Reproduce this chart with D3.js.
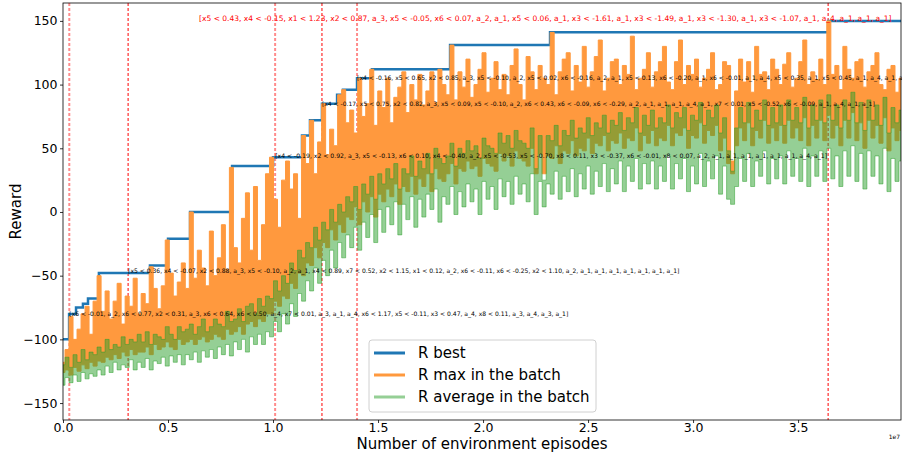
<!DOCTYPE html>
<html>
<head>
<meta charset="utf-8">
<script src="https://cdn.jsdelivr.net/npm/d3@7"></script>
<style>
  body { margin: 0; background: #fff; }
  svg { font-family: "DejaVu Sans", sans-serif; }
</style>
</head>
<body>
<div id="chart"></div>
<script>
// R best: step changes (episodes, reward)
const bestEpisodes = [0, 0.029e7, 0.062e7, 0.095e7, 0.119e7, 0.171e7, 0.414e7, 0.500e7, 0.605e7, 0.805e7,
  1.000e7, 1.138e7, 1.176e7, 1.233e7, 1.305e7, 1.333e7, 1.400e7, 1.471e7, 1.843e7, 2.319e7, 3.643e7, 3.99e7];
const bestValues = [-100, -80, -75, -72, -68, -48, -42, -21, 0, 36,
  43, 60, 72, 85, 92, 96, 105, 112, 131, 141, 150, 150];

// R max in the batch: top and bottom of the trace in each logged bin
const maxHigh = [
  -118, -108, -82, -100, -92, -80, -74, -96, -70, -50,
  -78, -62, -84, -70, -56, -88, -66, -74, -52, -80,
  -64, -72, -43, -60, -76, -58, -22, -48, -66, -55,
  -40, -60, 0, -52, -30, -44, -58, -15, -50, -36,
  -10, -45, 35, -28, -40, -5, 15, -30, 20, -38,
  -10, 30, 43, 10, -12, 25, 40, 18, 30, -5,
  60, 38, 72, 30, 55, 85, 45, 65, 52, 92,
  96, 70, 80, 62, 105, 75, 85, 112, 68, 95,
  82, 105, 70, 90, 98, 110, 78, 100, 88, 108,
  84, 95, 110, 86, 112, 100, 92, 131, 88, 110,
  98, 120, 90, 100, 112, 125, 94, 105, 118, 96,
  108, 92, 115, 128, 100, 88, 122, 110, 96, 115,
  105, 100, 141, 92, 110, 120, 125, 95, 115, 102,
  130, 98, 110, 122, 135, 95, 105, 118, 120, 100,
  115, 108, 138, 96, 105, 112, 125, 98, 110, 118,
  130, 102, 96, 118, 135, 100, 115, 108, 120, 98,
  105, 112, 125, 96, 100, 118, 115, 40, 95, 120,
  102, 118, 94, 130, 108, 110, 96, 120, 112, 100,
  116, 125, 98, 105, 118, 135, 100, 110, 104, 120,
  100, 150, 108, 115, 96, 130, 112, 105, 118, 120,
  98, 110, 115, 125, 100, 96, 112, 115, 94, 105
];
const maxLow = [
  -126, -124, -128, -122, -125, -120, -123, -118, -121, -117,
  -118, -114, -116, -112, -115, -110, -113, -108, -112, -110,
  -110, -106, -112, -104, -108, -106, -102, -106, -108, -100,
  -104, -102, -100, -104, -100, -98, -102, -100, -96, -98,
  -100, -92, -96, -94, -90, -96, -88, -86, -90, -84,
  -86, -80, -80, -70, -74, -66, -68, -56, -60, -48,
  -50, -40, -42, -28, -36, -24, -28, -14, -22, -10,
  -16, -4, -6, 4, -10, 8, 0, 12, -4, 14,
  8, 18, 12, 22, 6, 20, 16, 28, 14, 26,
  20, 30, 16, 34, 26, 24, 30, 38, 22, 34,
  32, 40, 34, 36, 28, 42, 38, 36, 32, 46,
  40, 44, 36, 48, 42, 40, 36, 50, 30, 46,
  30, 44, 42, 52, 38, 48, 46, 56, 44, 50,
  48, 58, 46, 54, 52, 60, 48, 56, 54, 62,
  50, 58, 56, 66, 48, 60, 54, 64, 52, 58,
  56, 68, 52, 62, 60, 66, 50, 60, 58, 70,
  54, 64, 60, 68, 48, 58, 38, 30, 52, 66,
  56, 70, 52, 64, 58, 72, 54, 66, 56, 68,
  54, 72, 58, 66, 56, 74, 52, 68, 58, 72,
  56, 76, 58, 68, 52, 72, 58, 78, 56, 70,
  50, 72, 58, 68, 54, 74, 48, 66, 56, 64
];

// R average in the batch: top and bottom of the trace in each logged bin
const avgHigh = [
  -120, -114, -122, -112, -118, -108, -116, -110, -112, -106,
  -110, -100, -108, -104, -106, -98, -104, -100, -102, -96,
  -102, -94, -104, -96, -98, -100, -90, -96, -100, -90,
  -94, -92, -88, -96, -90, -84, -94, -90, -84, -88,
  -90, -78, -86, -84, -76, -86, -74, -72, -80, -68,
  -74, -66, -68, -54, -62, -50, -56, -40, -46, -30,
  -36, -24, -28, -12, -22, -8, -14, 2, -8, 6,
  0, 12, 8, 20, 2, 22, 14, 28, 10, 30,
  22, 34, 26, 38, 18, 34, 30, 44, 28, 40,
  34, 46, 30, 50, 42, 38, 44, 54, 36, 50,
  46, 56, 48, 52, 42, 58, 52, 50, 46, 62,
  54, 60, 50, 64, 56, 54, 50, 66, 34, 60,
  25, 60, 56, 68, 52, 64, 60, 72, 58, 66,
  62, 74, 60, 70, 66, 76, 62, 72, 68, 78,
  64, 74, 70, 82, 62, 76, 68, 80, 66, 74,
  70, 84, 66, 78, 74, 82, 64, 76, 72, 86,
  68, 80, 74, 84, 62, 74, 48, 32, 66, 82,
  70, 86, 66, 80, 72, 88, 68, 82, 70, 84,
  68, 88, 72, 82, 70, 90, 66, 84, 72, 88,
  70, 92, 72, 84, 66, 88, 72, 94, 70, 86,
  64, 88, 72, 84, 68, 90, 62, 82, 70, 80
];
const avgLow = [
  -136, -130, -134, -128, -133, -126, -131, -127, -129, -124,
  -128, -121, -126, -118, -124, -120, -122, -116, -124, -118,
  -122, -115, -124, -117, -119, -114, -121, -113, -118, -112,
  -120, -112, -116, -110, -118, -109, -114, -108, -115, -106,
  -112, -104, -113, -102, -108, -100, -110, -98, -104, -96,
  -104, -94, -98, -86, -94, -80, -88, -72, -82, -64,
  -70, -54, -62, -44, -56, -38, -50, -30, -44, -24,
  -36, -18, -28, -12, -30, -8, -20, -2, -24, 2,
  -16, 4, -10, 8, -18, 6, -6, 12, -12, 10,
  -4, 14, 2, 18, -8, 12, 6, 20, -2, 16,
  4, 22, 8, 18, -2, 24, 10, 20, 2, 26,
  12, 24, 6, 28, 14, 22, 8, 30, -2, 24,
  4, 22, 14, 32, 10, 28, 16, 34, 12, 30,
  18, 36, 14, 32, 20, 38, 16, 34, 22, 40,
  16, 36, 24, 42, 18, 38, 22, 40, 18, 36,
  24, 44, 18, 38, 26, 42, 16, 36, 22, 46,
  20, 40, 26, 44, 14, 36, 10, 6, 20, 42,
  24, 46, 20, 40, 28, 48, 22, 42, 26, 44,
  22, 48, 28, 42, 24, 50, 20, 44, 28, 48,
  24, 50, 26, 44, 20, 48, 28, 52, 24, 46,
  18, 48, 28, 44, 22, 50, 16, 42, 24, 40
];
const lastEpisode = 3.99e7;

// vertical markers
const markerEpisodes = [0.03e7, 0.31e7, 1.01e7, 1.233e7, 1.40e7, 3.643e7];
const markerFaint = [true, false, true, false, true, false];

// rule annotations at (episode, reward)
const annoEpisodes = [0.03e7, 0.31e7, 1.01e7, 1.233e7, 1.40e7];
const annoValues = [-80, -46, 44, 85, 105];
const annoTexts = [
  "[x6 < -0.01, a_2, x6 < 0.77, x2 < 0.31, a_3, x6 < 0.64, x6 < 0.50, a_4, x7 < 0.01, a_3, a_1, a_4, x6 < 1.17, x5 < -0.11, x3 < 0.47, a_4, x8 < 0.11, a_3, a_4, a_3, a_1]",
  "[x5 < 0.36, x4 < -0.07, x2 < 0.88, a_3, x5 < -0.10, a_2, a_1, x4 < 0.89, x7 < 0.52, x2 < 1.15, x1 < 0.12, a_2, x6 < -0.11, x6 < -0.25, x2 < 1.10, a_2, a_1, a_1, a_1, a_1, a_1, a_1, a_1]",
  "[x4 < -0.19, x2 < 0.92, a_3, x5 < -0.13, x6 < 0.10, x4 < -0.40, a_2, x5 < -0.53, x5 < -0.70, x8 < 0.11, x3 < -0.37, x6 < -0.01, x8 < 0.07, a_2, a_1, a_1, a_1, a_1, a_1, a_1, a_4, a_1]",
  "[x4 < -0.17, x5 < 0.75, x2 < 0.82, a_3, x5 < 0.09, x5 < -0.10, a_2, x6 < 0.43, x6 < -0.09, x6 < -0.29, a_2, a_1, a_1, a_1, a_4, a_1, x7 < 0.01, x5 < -0.52, x6 < -0.09, a_1, a_4, a_1, a_1]",
  "[x4 < -0.16, x5 < 0.65, x2 < 0.85, a_3, x5 < -0.10, a_2, x5 < 0.02, x6 < -0.16, a_2, a_1, x5 < 0.13, x6 < -0.20, a_1, x6 < -0.01, a_1, a_4, x5 < 0.35, a_1, x5 < 0.45, a_1, a_4, a_1, a_1, a_1]"
];
// where each annotation ends in the reference (episodes), null = runs off the figure
const annoEndEpisodes = [2.41e7, 2.94e7, 3.64e7, 3.87e7, null];
const bestRule = { episode: 0.648e7, end: 3.95e7, value: 152,
  text: "[x5 < 0.43, x4 < -0.15, x1 < 1.23, x2 < 0.87, a_3, x5 < -0.05, x6 < 0.07, a_2, a_1, x5 < 0.06, a_1, x3 < -1.61, a_1, x3 < -1.49, a_1, x3 < -1.30, a_1, x3 < -1.07, a_1, a_4, a_1, a_1, a_1]" };

const xTicks = [0, 0.5e7, 1.0e7, 1.5e7, 2.0e7, 2.5e7, 3.0e7, 3.5e7];
const yTicks = [-150, -100, -50, 0, 50, 100, 150];
const legendLabels = ["R best", "R max in the batch", "R average in the batch"];

// size a text so that it spans a given width
function fitFont(sel, targetWidth) {
    sel.style("font-size", "10px");
    const w = sel.node().getComputedTextLength();
    const size = 10 * targetWidth / w;
    sel.style("font-size", size + "px");
    return size;
}

function drawChart() {
    const W = 902, H = 453;
    const margin = { top: 3, right: 1, bottom: 33, left: 63 };
    const width = W - margin.left - margin.right;
    const height = H - margin.top - margin.bottom;

    const svg = d3.select("#chart").append("svg")
        .attr("width", W)
        .attr("height", H);

    const g = svg.append("g")
        .attr("transform", `translate(${margin.left}, ${margin.top})`);

    const x = d3.scaleLinear().domain([0, lastEpisode]).range([0, width]);
    const y = d3.scaleLinear().domain([-163.3, 164.05]).range([height, 0]);

    g.append("clipPath").attr("id", "plot-clip")
        .append("rect").attr("width", width).attr("height", height);

    const plot = g.append("g").attr("clip-path", "url(#plot-clip)");

    // vertical markers
    plot.selectAll(".marker")
        .data(markerEpisodes)
        .enter()
        .append("line")
        .attr("class", "marker")
        .attr("x1", d => x(d)).attr("x2", d => x(d))
        .attr("y1", 0).attr("y2", height)
        .attr("stroke", (d, i) => markerFaint[i] ? "rgba(255,0,0,0.45)" : "#ff0000")
        .attr("stroke-width", (d, i) => markerFaint[i] ? 2 : 1)
        .attr("stroke-dasharray", "3,2");

    const step = lastEpisode / (maxHigh.length - 1);

    // R best
    const bestLine = d3.line()
        .x((d, i) => x(bestEpisodes[i]))
        .y(d => y(d))
        .curve(d3.curveStepAfter);
    plot.append("path")
        .datum(bestValues)
        .attr("d", bestLine)
        .attr("fill", "none")
        .attr("stroke", "#1f77b4")
        .attr("stroke-width", 2.5);

    const band = (hi, lo) => d3.area()
        .x((d, i) => x(i * step))
        .y0((d, i) => y(lo[i]))
        .y1((d, i) => y(hi[i]))
        .curve(d3.curveStep);

    // R max
    plot.append("path")
        .datum(maxHigh)
        .attr("d", band(maxHigh, maxLow))
        .attr("fill", "#ff993e")
        .attr("stroke", "#ff993e")
        .attr("stroke-width", 1);

    // R average
    plot.append("path")
        .datum(avgHigh)
        .attr("d", band(avgHigh, avgLow))
        .attr("fill", "#2ca02c")
        .attr("fill-opacity", 0.5)
        .attr("stroke", "#2ca02c")
        .attr("stroke-opacity", 0.5)
        .attr("stroke-width", 1);

    // annotations
    const annos = g.selectAll(".anno")
        .data(annoTexts)
        .enter()
        .append("text")
        .attr("class", "anno")
        .attr("x", (d, i) => x(annoEpisodes[i]))
        .attr("y", (d, i) => y(annoValues[i]))
        .attr("dy", "0.35em")
        .attr("fill", "#000")
        .text(d => d);
    const sizes = [];
    annos.each(function(d, i) {
        if (annoEndEpisodes[i] !== null) {
            sizes.push(fitFont(d3.select(this), x(annoEndEpisodes[i]) - x(annoEpisodes[i])));
        }
    });
    annos.filter((d, i) => annoEndEpisodes[i] === null)
        .style("font-size", d3.mean(sizes.slice(1)) + "px");

    const red = g.append("text")
        .attr("x", x(bestRule.episode))
        .attr("y", y(bestRule.value))
        .attr("dy", "0.35em")
        .attr("fill", "#ff0000")
        .text(bestRule.text);
    fitFont(red, x(bestRule.end) - x(bestRule.episode));

    // axes
    const xAxis = d3.axisBottom(x)
        .tickValues(xTicks)
        .tickSize(3)
        .tickFormat(d => d3.format(".1f")(d / 1e7));
    const yAxis = d3.axisLeft(y)
        .tickValues(yTicks)
        .tickSize(3);

    const gx = g.append("g")
        .attr("transform", `translate(0, ${height})`)
        .call(xAxis);
    const gy = g.append("g").call(yAxis);

    [gx, gy].forEach(ax => {
        ax.select(".domain").remove();
        ax.selectAll("line").attr("stroke", "#000").attr("stroke-width", 0.8);
        ax.selectAll("text")
            .style("font-family", "DejaVu Sans")
            .style("font-size", "12.5px")
            .attr("fill", "#000");
    });
    gx.selectAll("text").attr("y", 3).attr("dy", "0.71em");
    gy.selectAll("text").attr("x", -5.5);

    // frame
    g.append("rect")
        .attr("width", width).attr("height", height)
        .attr("fill", "none")
        .attr("stroke", "#000")
        .attr("stroke-width", 0.8);

    // offset text
    svg.append("text")
        .attr("x", margin.left + width - 1)
        .attr("y", H - 14)
        .attr("text-anchor", "end")
        .style("font-size", "6px")
        .text("1e7");

    // axis titles
    svg.append("text")
        .attr("x", margin.left + width / 2)
        .attr("y", H - 4)
        .attr("text-anchor", "middle")
        .style("font-size", "15px")
        .text("Number of environment episodes");

    svg.append("text")
        .attr("transform", "rotate(-90)")
        .attr("x", -(margin.top + height / 2))
        .attr("y", 21)
        .attr("text-anchor", "middle")
        .style("font-size", "15px")
        .text("Reward");

    // legend
    const legendColors = ["#1f77b4", "#ff7f0e", "#2ca02c"];
    const legendOpacity = [1, 0.8, 0.5];
    const legend = svg.append("g")
        .attr("transform", "translate(369, 340)");
    legend.append("rect")
        .attr("width", 227).attr("height", 72)
        .attr("rx", 3)
        .attr("fill", "rgba(255,255,255,0.8)")
        .attr("stroke", "#d0d0d0")
        .attr("stroke-width", 1);
    const items = legend.selectAll(".legend-item")
        .data(legendLabels)
        .enter()
        .append("g")
        .attr("class", "legend-item")
        .attr("transform", (d, i) => `translate(0, ${13 + i * 22})`);
    items.append("line")
        .attr("x1", 5).attr("x2", 36)
        .attr("stroke", (d, i) => legendColors[i])
        .attr("stroke-opacity", (d, i) => legendOpacity[i])
        .attr("stroke-width", 3);
    items.append("text")
        .attr("x", 49)
        .attr("dy", "0.35em")
        .style("font-size", "15px")
        .text(d => d);
}

drawChart();
</script>
</body>
</html>
